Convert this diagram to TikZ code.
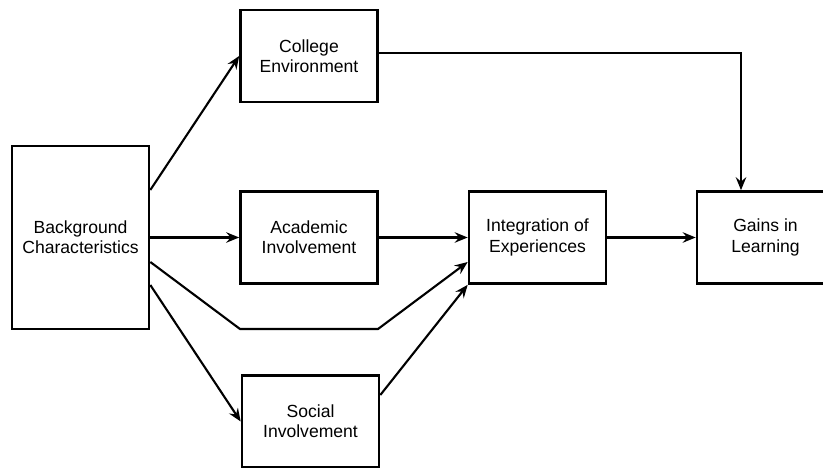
\documentclass[tikz,border=0pt]{standalone}
\usepackage{fontspec}
\setmainfont{Liberation Sans}
\usepackage{tikz}
\usetikzlibrary{positioning,arrows.meta}

\begin{document}
\begin{tikzpicture}[
        box/.style={draw, line width=1.5pt, minimum width=2.74cm, minimum height=1.84cm, align=center, inner sep=0pt, font=\fontsize{10}{11.5}\selectfont},
        link/.style={line width=1.2pt, -{Stealth[length=2.6mm, width=2.1mm, inset=0.9mm]}}
        ]
        \useasboundingbox (0,0) rectangle (16.46,9.36);
        \node[box, minimum height=3.66cm](bg) at (1.61,4.61){Background\\Characteristics};
        \node[box](ce) at (6.18,8.24){College\\Environment};
        \node[box](ai) at (6.18,4.61){Academic\\Involvement};
        \node[box](si) at (6.21,0.93){Social\\Involvement};
        \node[box](ie) at (10.75,4.61){Integration of\\Experiences};
        \node[box](gl) at (15.31,4.61){Gains in\\Learning};
        \coordinate (bendl) at (4.8,2.78);
        \coordinate (bendr) at (7.56,2.78);
        \draw[link] ([yshift=0.95cm]bg.east)--(ce.west);
        \draw[link] (bg.east)--(ai.west);
        \draw[link] ([yshift=-0.49cm]bg.east)--(bendl)--(bendr)--([yshift=-0.49cm]ie.west);
        \draw[link] ([yshift=-0.95cm]bg.east)--(si.west);
        \draw[link] (ai.east)--(ie.west);
        \draw[link] ([yshift=0.53cm]si.east)--(ie.south west);
        \draw[link] (ie.east)--(gl.west);
        \draw[link] ([yshift=0.06cm]ce.east)-|([xshift=-0.49cm]gl.north);
\end{tikzpicture}
\end{document}
